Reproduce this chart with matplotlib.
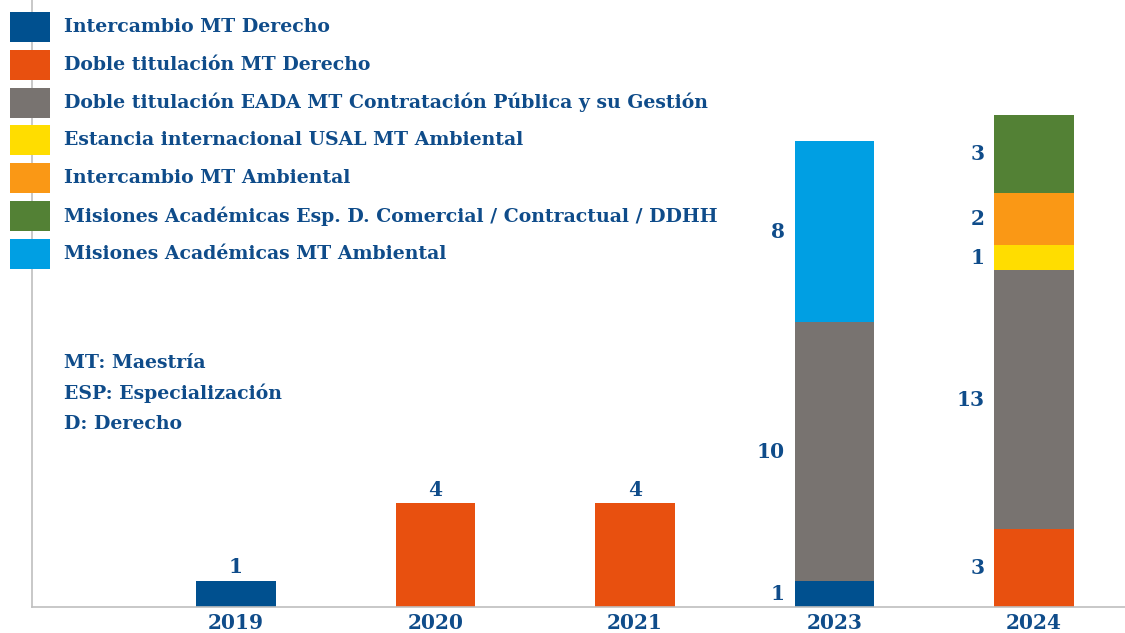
import matplotlib
matplotlib.use("Agg")
import matplotlib.pyplot as plt
from matplotlib.patches import Rectangle

years = ["2019", "2020", "2021", "2023", "2024"]
series_names = [
    "Intercambio MT Derecho",
    "Doble titulación MT Derecho",
    "Doble titulación EADA MT Contratación Pública y su Gestión",
    "Estancia internacional USAL MT Ambiental",
    "Intercambio MT Ambiental",
    "Misiones Académicas Esp. D. Comercial / Contractual / DDHH",
    "Misiones Académicas MT Ambiental",
]
colors = ["#00508F", "#E8500F", "#787370", "#FFDD00", "#FA9815", "#538135", "#009FE3"]

# bar segment heights as drawn in the picture
heights = [
    [1, 0, 0, 1, 0],   # Intercambio MT Derecho
    [0, 4, 4, 0, 3],   # Doble titulación MT Derecho
    [0, 0, 0, 10, 10], # EADA
    [0, 0, 0, 0, 1],   # USAL
    [0, 0, 0, 0, 2],   # Intercambio MT Ambiental
    [0, 0, 0, 0, 3],   # Misiones Esp.
    [0, 0, 0, 7, 0],   # Misiones MT Ambiental
]
# value labels as printed in the picture
labels = [
    ["1", "", "", "1", ""],
    ["", "4", "4", "", "3"],
    ["", "", "", "10", "13"],
    ["", "", "", "", "1"],
    ["", "", "", "", "2"],
    ["", "", "", "", "3"],
    ["", "", "", "8", ""],
]
notes = ["MT: Maestría", "ESP: Especialización", "D: Derecho"]

TXT = "#0F4C8A"
FONT = "DejaVu Serif"
W, H = 1125, 633
fig = plt.figure(figsize=(W / 100, H / 100), dpi=100)
ax = fig.add_axes([32 / W, 26 / H, (1125 - 32) / W, 607 / H])

x = list(range(len(years)))
bottoms = [0] * len(years)
nseg = [sum(1 for s in heights if s[i] > 0) for i in range(len(years))]
bw = 0.40
for s, (h, lab) in enumerate(zip(heights, labels)):
    ax.bar(x, h, bw, bottom=bottoms, color=colors[s], linewidth=0)
    for i in range(len(years)):
        if h[i] > 0 and lab[i]:
            if nseg[i] > 1:
                ax.text(x[i] - bw / 2 - 0.05, bottoms[i] + h[i] / 2, lab[i],
                        ha="right", va="center", color=TXT, fontsize=14.5,
                        family=FONT, fontweight="bold")
            else:
                ax.text(x[i], bottoms[i] + h[i] + 0.15, lab[i],
                        ha="center", va="bottom", color=TXT, fontsize=14.5,
                        family=FONT, fontweight="bold")
    bottoms = [b + v for b, v in zip(bottoms, h)]

ax.set_xlim(-1.0226, 4.456)
ax.set_ylim(0, 23.45)
ax.set_yticks([])
ax.set_xticks(x)
ax.set_xticklabels(years, color=TXT, fontsize=14.5, family=FONT, fontweight="bold")
ax.tick_params(axis="x", length=0, pad=4)
for sp in ["top", "right"]:
    ax.spines[sp].set_visible(False)
for sp in ["left", "bottom"]:
    ax.spines[sp].set_color("#BFBFBF")
    ax.spines[sp].set_linewidth(1.2)

# legend drawn manually
for i, (name, c) in enumerate(zip(series_names, colors)):
    yc = 27 + 37.8 * i
    fig.patches.append(Rectangle((10 / W, 1 - (yc + 15) / H), 40 / W, 30 / H,
                                 transform=fig.transFigure, color=c, linewidth=0))
    fig.text(64 / W, 1 - yc / H, name, ha="left", va="center", color=TXT,
             fontsize=13.6, family=FONT, fontweight="bold")

for i, n in enumerate(notes):
    fig.text(64 / W, 1 - (363 + 30.5 * i) / H, n, ha="left", va="center",
             color=TXT, fontsize=13.6, family=FONT, fontweight="bold")

fig.savefig("out.png", dpi=100)
